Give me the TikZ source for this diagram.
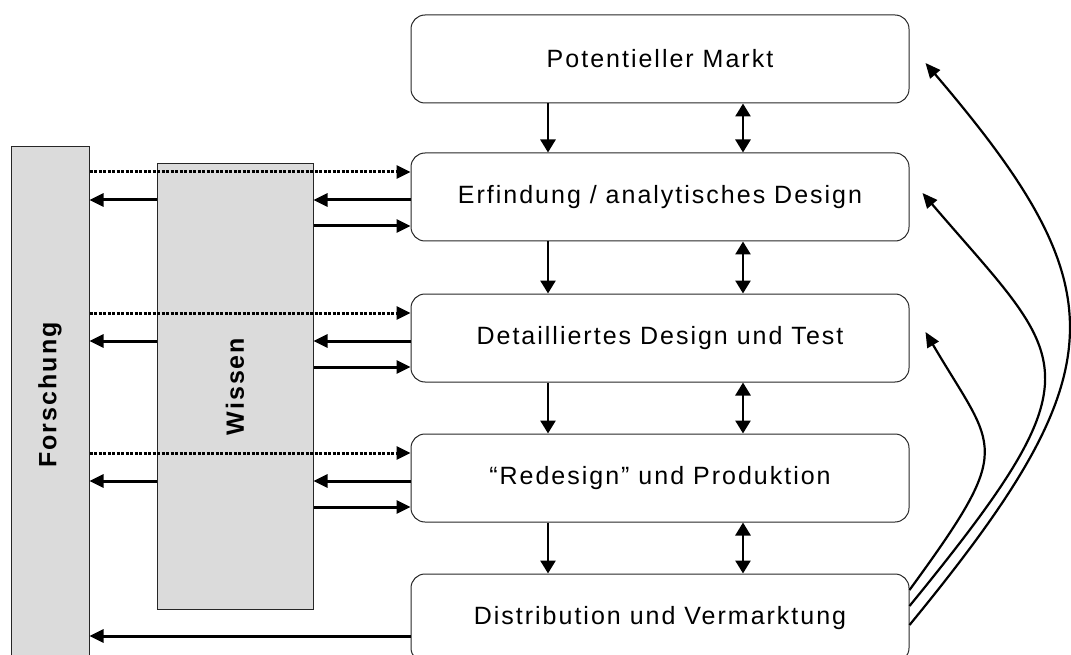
\documentclass[tikz,border=0pt]{standalone}
\usepackage{fontspec}
\newfontfamily\boxfont[LetterSpace=8]{Liberation Sans}
\usepackage{tikz}
\usetikzlibrary{arrows.meta, positioning}

\begin{document}
\begin{tikzpicture}[
    x=1pt, y=-1pt,
    box/.style={rectangle, rounded corners=14pt, draw=black!85, line width=1pt, minimum width=498pt, minimum height=88pt, inner sep=0pt, font=\boxfont\fontsize{25}{30}\selectfont},
    graybox/.style={rectangle, draw=black!85, fill=black!14, line width=1pt, inner sep=0pt},
    vlabel/.style={rotate=90, font=\boxfont\fontsize{25}{30}\selectfont\bfseries},
    arrow/.style={-{Triangle[length=14pt, width=13pt]}, line width=3pt},
    dotarrow/.style={arrow, dash pattern=on 3pt off 1.5pt},
    varrow/.style={-{Triangle[length=13pt, width=15pt]}, line width=2.7pt},
    dvarrow/.style={{Triangle[length=13pt, width=15pt]}-{Triangle[length=13pt, width=15pt]}, line width=2.7pt},
    curvearrow/.style={-{Triangle[length=15pt, width=13pt]}, line width=2.2pt}
]
\useasboundingbox (0,0) rectangle (1071,655);

% Research and knowledge blocks
\node[graybox, minimum width=78pt, minimum height=530pt] (forschung) at (50,412) {};
\node[vlabel] (forschung-text) at (50,395) {Forschung};
\node[graybox, minimum width=156pt, minimum height=445pt] (wissen) at (235,386.5) {};
\node[vlabel] (wissen-text) at (wissen.center) {Wissen};

% Main chain boxes
\node[box] (markt) at (660,59) {Potentieller Markt};
\node[box] (erf) at (660,197) {Erfindung / analytisches Design};
\node[box] (detail) at (660,338) {Detailliertes Design und Test};
\node[box] (redes) at (660,478) {“Redesign” und Produktion};
\node[box] (distr) at (660,618) {Distribution und Vermarktung};

% Arrows down the chain
\foreach \a/\b in {markt/erf, erf/detail, detail/redes, redes/distr} {
  \draw[varrow] ([xshift=-112pt]\a.south) -- ([xshift=-112pt]\b.north);
  \draw[dvarrow] ([xshift=83pt]\a.south) -- ([xshift=83pt]\b.north);
}

% Links to knowledge and research
\foreach \b in {erf, detail, redes} {
  \coordinate (\b-dot) at ([yshift=25pt]\b.west);
  \coordinate (\b-in) at ([yshift=-3pt]\b.west);
  \coordinate (\b-out) at ([yshift=-29pt]\b.west);
  \draw[dotarrow] (forschung.east |- \b-dot) -- (\b-dot);
  \draw[arrow] (\b-in) -- (wissen.east |- \b-in);
  \draw[arrow] (wissen.west |- \b-in) -- (forschung.east |- \b-in);
  \draw[arrow] (wissen.east |- \b-out) -- (\b-out);
}
\coordinate (distr-in) at ([yshift=-18pt]distr.west);
\draw[arrow] (distr-in) -- (forschung.east |- distr-in);

% Feedback from the market
\draw[curvearrow] ([yshift=28pt]distr.east) .. controls (1016,444) and (996,452) .. ([xshift=16pt, yshift=6pt]detail.east);
\draw[curvearrow] ([yshift=12pt]distr.east) .. controls (1105,367) and (1068,363) .. ([xshift=13pt, yshift=4pt]erf.east);
\draw[curvearrow] ([yshift=-7pt]distr.east) .. controls (1118,371) and (1120,291) .. ([xshift=16pt, yshift=-4pt]markt.east);

\end{tikzpicture}
\end{document}
